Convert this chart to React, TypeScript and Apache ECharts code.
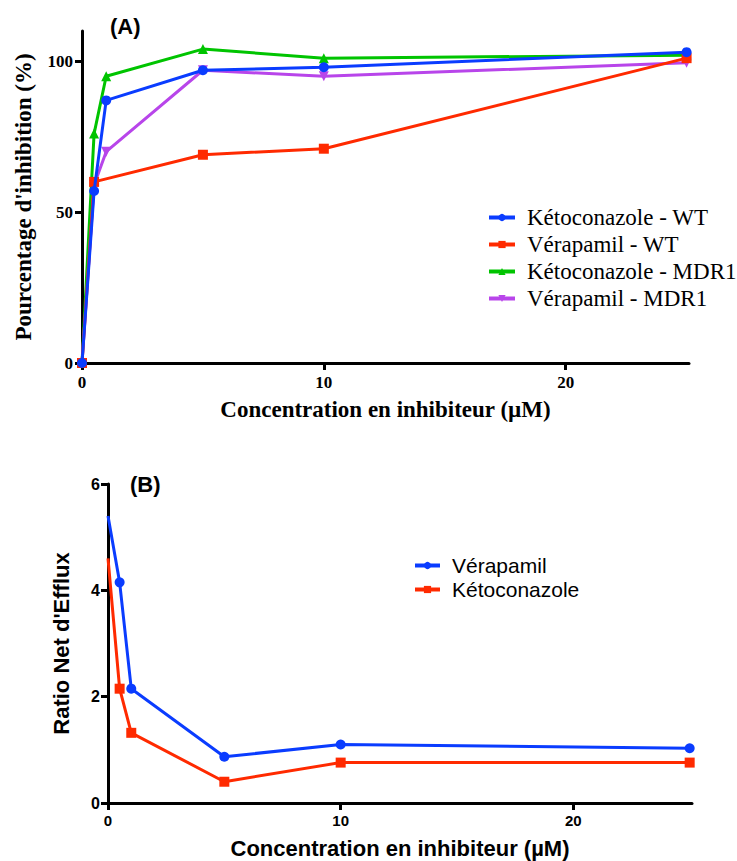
import React, { useEffect, useRef } from "react";
import * as echarts from "echarts";

// Concentrations (µM)
const concentrations = [0, 0.5, 1, 5, 10, 25];

// Panel A: percentage of inhibition
const ketoWT = [0, 57, 87, 97, 98, 103];
const veraWT = [0, 60, null, 69, 71, 101];
const ketoMDR1 = [0, 76, 95, 104, 101, 102];
const veraMDR1 = [0, 59, 70, 97, 95, 99.5];

// Panel B: net efflux ratio
const veraRatio = [5.4, 4.15, 2.15, 0.87, 1.1, 1.03];
const ketoRatio = [4.6, 2.15, 1.32, 0.4, 0.76, 0.76];

const ticksA_y = [0, 50, 100];
const ticksX = [0, 10, 20];
const ticksB_y = [0, 2, 4, 6];

const BLUE = "#0a3cff";
const RED = "#ff2a00";
const GREEN = "#00c400";
const PURPLE = "#b845ea";

const SERIF = "Liberation Serif";
const SANS = "Liberation Sans";

function pairs(values: (number | null)[]) {
  return concentrations.map((x, i) => [x, values[i]]);
}

function pairsNoFirstSymbol(values: number[]) {
  return concentrations.map((x, i) =>
    i === 0 ? { value: [x, values[i]], symbol: "none" } : [x, values[i]]
  );
}

export default function App() {
  const ref = useRef<HTMLDivElement>(null);

  useEffect(() => {
    document.body.style.margin = "0";
    const chart = echarts.init(ref.current!, null, { renderer: "svg" });

    const axisLine = { show: true, lineStyle: { color: "#000", width: 3 } };
    const axisTickStyle = { lineStyle: { color: "#000", width: 3 }, length: 7 };

    const lineSeries = (
      name: string,
      data: any[],
      color: string,
      symbol: string,
      idx: number,
      z: number,
      symbolSize = 9,
      symbolRotate = 0
    ) => ({
      name,
      type: "line",
      xAxisIndex: idx,
      yAxisIndex: idx,
      data,
      symbol,
      symbolSize,
      symbolRotate,
      connectNulls: true,
      z,
      lineStyle: { color, width: 3 },
      itemStyle: { color },
    });

    chart.setOption({
      animation: false,
      grid: [
        { left: 82, top: 31, width: 607, height: 332 },
        { left: 108, top: 484, width: 584, height: 319 },
      ],
      xAxis: [
        {
          type: "value",
          gridIndex: 0,
          min: 0,
          max: 25.1,
          interval: 10,
          splitLine: { show: false },
          axisLine,
          axisTick: { ...axisTickStyle, customValues: ticksX },
          axisLabel: {
            customValues: ticksX,
            margin: 11,
            fontFamily: SERIF,
            fontWeight: "bold",
            fontSize: 17,
            color: "#000",
          },
          name: "Concentration en inhibiteur (µM)",
          nameLocation: "middle",
          nameGap: 35,
          nameTextStyle: { fontFamily: SERIF, fontWeight: "bold", fontSize: 23, color: "#000" },
        },
        {
          type: "value",
          gridIndex: 1,
          min: 0,
          max: 25.1,
          interval: 10,
          splitLine: { show: false },
          axisLine,
          axisTick: { ...axisTickStyle, customValues: ticksX },
          axisLabel: {
            customValues: ticksX,
            margin: 10,
            fontFamily: SANS,
            fontWeight: "bold",
            fontSize: 15,
            color: "#000",
          },
          name: "Concentration en inhibiteur (µM)",
          nameLocation: "middle",
          nameGap: 34,
          nameTextStyle: { fontFamily: SANS, fontWeight: "bold", fontSize: 22, color: "#000" },
        },
      ],
      yAxis: [
        {
          type: "value",
          gridIndex: 0,
          min: 0,
          max: 110,
          interval: 50,
          splitLine: { show: false },
          axisLine,
          axisTick: { ...axisTickStyle, customValues: ticksA_y },
          axisLabel: {
            customValues: ticksA_y,
            margin: 9,
            fontFamily: SERIF,
            fontWeight: "bold",
            fontSize: 17,
            color: "#000",
          },
          name: "Pourcentage d'inhibition (%)",
          nameLocation: "middle",
          nameGap: 47,
          nameTextStyle: { fontFamily: SERIF, fontWeight: "bold", fontSize: 23, color: "#000" },
        },
        {
          type: "value",
          gridIndex: 1,
          min: 0,
          max: 6,
          interval: 2,
          splitLine: { show: false },
          axisLine,
          axisTick: { ...axisTickStyle, customValues: ticksB_y },
          axisLabel: {
            customValues: ticksB_y,
            margin: 8,
            fontFamily: SANS,
            fontWeight: "bold",
            fontSize: 16,
            color: "#000",
          },
          name: "Ratio Net d'Efflux",
          nameLocation: "middle",
          nameGap: 36,
          nameTextStyle: { fontFamily: SANS, fontWeight: "bold", fontSize: 22, color: "#000" },
        },
      ],
      legend: [
        {
          left: 482,
          top: 201,
          orient: "vertical",
          itemWidth: 26,
          itemHeight: 9,
          itemGap: 4,
          lineStyle: { width: 4 },
          data: ["Kétoconazole - WT", "Vérapamil - WT", "Kétoconazole - MDR1", "Vérapamil - MDR1"],
          textStyle: { fontFamily: SERIF, fontSize: 23, color: "#000", lineHeight: 23, padding: [0, 0, 0, 7] },
        },
        {
          left: 408,
          top: 550,
          orient: "vertical",
          itemWidth: 25,
          itemHeight: 9,
          itemGap: 3,
          lineStyle: { width: 4 },
          data: ["Vérapamil", "Kétoconazole"],
          textStyle: { fontFamily: SANS, fontSize: 21, color: "#000", lineHeight: 21, padding: [0, 0, 0, 7] },
        },
      ],
      graphic: [
        {
          type: "text",
          left: 110,
          top: 15,
          style: { text: "(A)", font: `bold 22px ${SANS}`, fill: "#000" },
        },
        {
          type: "text",
          left: 130,
          top: 473,
          style: { text: "(B)", font: `bold 22px ${SANS}`, fill: "#000" },
        },
      ],
      series: [
        lineSeries("Kétoconazole - WT", pairs(ketoWT), BLUE, "circle", 0, 6, 10),
        lineSeries("Vérapamil - WT", pairs(veraWT), RED, "rect", 0, 5, 10),
        lineSeries("Kétoconazole - MDR1", pairs(ketoMDR1), GREEN, "triangle", 0, 3, 10),
        lineSeries("Vérapamil - MDR1", pairs(veraMDR1), PURPLE, "triangle", 0, 4, 10, 180),
        lineSeries("Vérapamil", pairsNoFirstSymbol(veraRatio), BLUE, "circle", 1, 5, 10),
        lineSeries("Kétoconazole", pairsNoFirstSymbol(ketoRatio), RED, "rect", 1, 4, 10),
      ],
    });

    return () => chart.dispose();
  }, []);

  return <div ref={ref} style={{ width: 737, height: 861 }} />;
}
